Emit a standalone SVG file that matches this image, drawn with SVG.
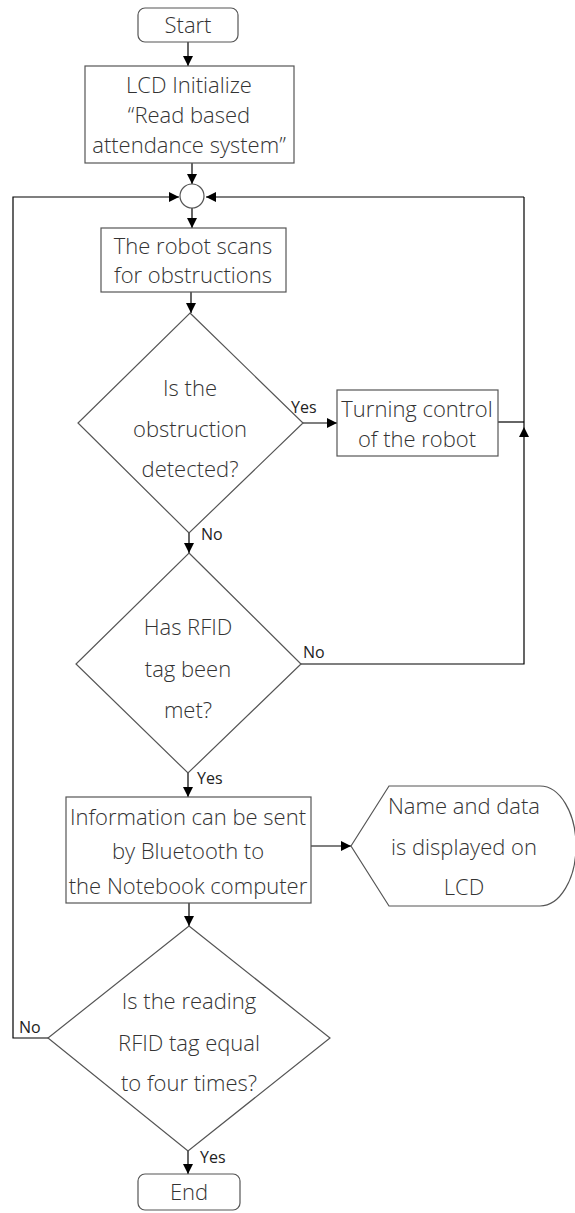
<svg xmlns="http://www.w3.org/2000/svg" width="575" height="1213" viewBox="0 0 575 1213">
  <style>
    .shape { fill: #fff; stroke: #555; stroke-width: 1.2; }
    .conn { fill: none; stroke: #000; stroke-width: 1.2; }
    .label { font-family: "Open Sans", "Noto Sans", "Liberation Sans", sans-serif; font-weight: 300; font-size: 22px; fill: #333; text-anchor: middle; }
    .tag { font-family: "Open Sans", "Noto Sans", "Liberation Sans", sans-serif; font-weight: 400; font-size: 16px; fill: #222; }
  </style>
  <defs>
    <marker id="arrow" viewBox="0 0 10 10" refX="10" refY="5" markerWidth="10" markerHeight="10" markerUnits="userSpaceOnUse" orient="auto">
      <path d="M0,0 L10,5 L0,10 Z" fill="#000"/>
    </marker>
  </defs>
  <rect width="575" height="1213" fill="#fff"/>

  <!-- connectors -->
  <g id="connectors">
    <line class="conn" x1="188" y1="42" x2="188" y2="66" marker-end="url(#arrow)"/>
    <line class="conn" x1="192" y1="163" x2="192" y2="184" marker-end="url(#arrow)"/>
    <line class="conn" x1="192" y1="208" x2="192" y2="228" marker-end="url(#arrow)"/>
    <line class="conn" x1="191" y1="292" x2="191" y2="313" marker-end="url(#arrow)"/>
    <!-- Yes: obstruction detected -->
    <line class="conn" x1="303" y1="423" x2="337" y2="423" marker-end="url(#arrow)"/>
    <!-- turning control returns to the loop -->
    <line class="conn" x1="498" y1="422" x2="524" y2="422"/>
    <polyline class="conn" points="524,197 206,197" marker-end="url(#arrow)"/>
    <!-- No: RFID tag not met -->
    <polyline class="conn" points="301,664 524,664 524,427" marker-end="url(#arrow)"/>
    <line class="conn" x1="524" y1="427" x2="524" y2="197"/>
    <!-- No: obstruction -->
    <line class="conn" x1="189" y1="533" x2="189" y2="553" marker-end="url(#arrow)"/>
    <!-- Yes: RFID tag met -->
    <line class="conn" x1="188" y1="773" x2="188" y2="797" marker-end="url(#arrow)"/>
    <line class="conn" x1="311" y1="846" x2="351" y2="846" marker-end="url(#arrow)"/>
    <line class="conn" x1="189" y1="903" x2="189" y2="926" marker-end="url(#arrow)"/>
    <!-- No: fewer than four readings -->
    <polyline class="conn" points="48,1038 13,1038 13,197 179,197" marker-end="url(#arrow)"/>
    <!-- Yes: done -->
    <line class="conn" x1="188" y1="1151" x2="188" y2="1174" marker-end="url(#arrow)"/>

    <text class="tag" x="291" y="413">Yes</text>
    <text class="tag" x="201" y="540">No</text>
    <text class="tag" x="303" y="658">No</text>
    <text class="tag" x="197" y="784">Yes</text>
    <text class="tag" x="19" y="1033">No</text>
    <text class="tag" x="200" y="1163">Yes</text>
  </g>

  <g id="start">
    <rect class="shape" x="138" y="8" width="100" height="34" rx="7"/>
    <text class="label" x="188" y="33">Start</text>
  </g>

  <g id="lcd-init">
    <rect class="shape" x="85" y="66" width="209" height="97"/>
    <text class="label" x="189" y="93">LCD Initialize</text>
    <text class="label" x="189" y="123">“Read based</text>
    <text class="label" x="189" y="153">attendance system”</text>
  </g>

  <g id="junction">
    <circle class="shape" cx="192" cy="196" r="12"/>
  </g>

  <g id="scan">
    <rect class="shape" x="101" y="228" width="185" height="64"/>
    <text class="label" x="193" y="254">The robot scans</text>
    <text class="label" x="193" y="283">for obstructions</text>
  </g>

  <g id="obstruction">
    <polygon class="shape" points="190,313 303,423 189,533 78,423"/>
    <text class="label" x="190" y="396">Is the</text>
    <text class="label" x="190" y="437">obstruction</text>
    <text class="label" x="190" y="477">detected?</text>
  </g>

  <g id="turning">
    <rect class="shape" x="337" y="390" width="161" height="66"/>
    <text class="label" x="417" y="417">Turning control</text>
    <text class="label" x="417" y="447">of the robot</text>
  </g>

  <g id="rfid-met">
    <polygon class="shape" points="189,553 301,664 188,773 76,664"/>
    <text class="label" x="188" y="635">Has RFID</text>
    <text class="label" x="188" y="677">tag been</text>
    <text class="label" x="188" y="718">met?</text>
  </g>

  <g id="bluetooth">
    <rect class="shape" x="66" y="797" width="245" height="106"/>
    <text class="label" x="188" y="825">Information can be sent</text>
    <text class="label" x="188" y="859">by Bluetooth to</text>
    <text class="label" x="188" y="894">the Notebook computer</text>
  </g>

  <g id="display">
    <path class="shape" d="M351,846 L389,786 L540,786 A36,60 0 0 1 540,906 L389,906 Z"/>
    <text class="label" x="464" y="814">Name and data</text>
    <text class="label" x="464" y="855">is displayed on</text>
    <text class="label" x="464" y="895">LCD</text>
  </g>

  <g id="count-check">
    <polygon class="shape" points="189,926 330,1038 188,1151 48,1038"/>
    <text class="label" x="189" y="1009">Is the reading</text>
    <text class="label" x="189" y="1051">RFID tag equal</text>
    <text class="label" x="189" y="1091">to four times?</text>
  </g>

  <g id="end">
    <rect class="shape" x="138" y="1174" width="102" height="36" rx="7"/>
    <text class="label" x="189" y="1200">End</text>
  </g>
</svg>
